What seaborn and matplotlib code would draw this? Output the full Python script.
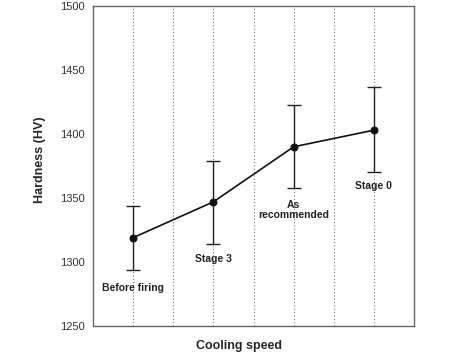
import pandas as pd
import matplotlib
matplotlib.use('Agg')
import matplotlib.pyplot as plt
import seaborn as sns

# ── Data ──────────────────────────────────────────────────────
stages   = ['Before firing', 'Stage 3', 'As\nrecommended', 'Stage 0']
x_pos    = [1, 3, 5, 7]
hardness = [1319, 1347, 1390, 1403]
err_hi   = [1344, 1379, 1423, 1437]
err_lo   = [1294, 1314, 1358, 1370]
label_y  = [1280, 1302, 1341, 1359]

df = pd.DataFrame({'x': x_pos, 'hv': hardness, 'hi': err_hi, 'lo': err_lo})

sns.set_style('white')
plt.rcParams['font.family'] = ['Liberation Sans', 'DejaVu Sans']

fig = plt.figure(figsize=(4.72, 3.54), dpi=100)
ax = fig.add_axes([93/472, 1 - 326/354, 321/472, 320/354])

# dotted vertical guides
for gx in range(1, 8):
    ax.axvline(gx, color='#777777', lw=0.8, ls=(0, (1, 2)), zorder=0)

ax.errorbar(df['x'], df['hv'],
            yerr=[df['hv'] - df['lo'], df['hi'] - df['hv']],
            fmt='none', ecolor='#222222', elinewidth=1.0, capsize=5, capthick=1.0)
sns.lineplot(data=df, x='x', y='hv', ax=ax, color='#111111', lw=1.2,
             marker='o', markersize=5, markeredgecolor='#111111')

for x, y, s in zip(x_pos, label_y, stages):
    ax.text(x, y, s, ha='center', va='center', fontsize=7.5,
            fontweight='bold', color='#222222', linespacing=1.0)

ax.set_xlim(0, 8)
ax.set_ylim(1250, 1500)
ax.set_yticks(range(1250, 1501, 50))
ax.set_xticks([])
ax.tick_params(axis='y', direction='in', length=5, width=0.8,
               labelsize=8, pad=6, colors='#333333', labelcolor='#333333')
for sp in ax.spines.values():
    sp.set_color('#666666')
    sp.set_linewidth(1.0)

ax.set_xlabel('Cooling speed', fontsize=9, fontweight='bold', labelpad=10)
ax.xaxis.label.set_x(0.455)
ax.set_ylabel('Hardness (HV)', fontsize=9, fontweight='bold')
ax.yaxis.set_label_coords(-0.146, 0.52)

fig.savefig('out.png', dpi=100)
